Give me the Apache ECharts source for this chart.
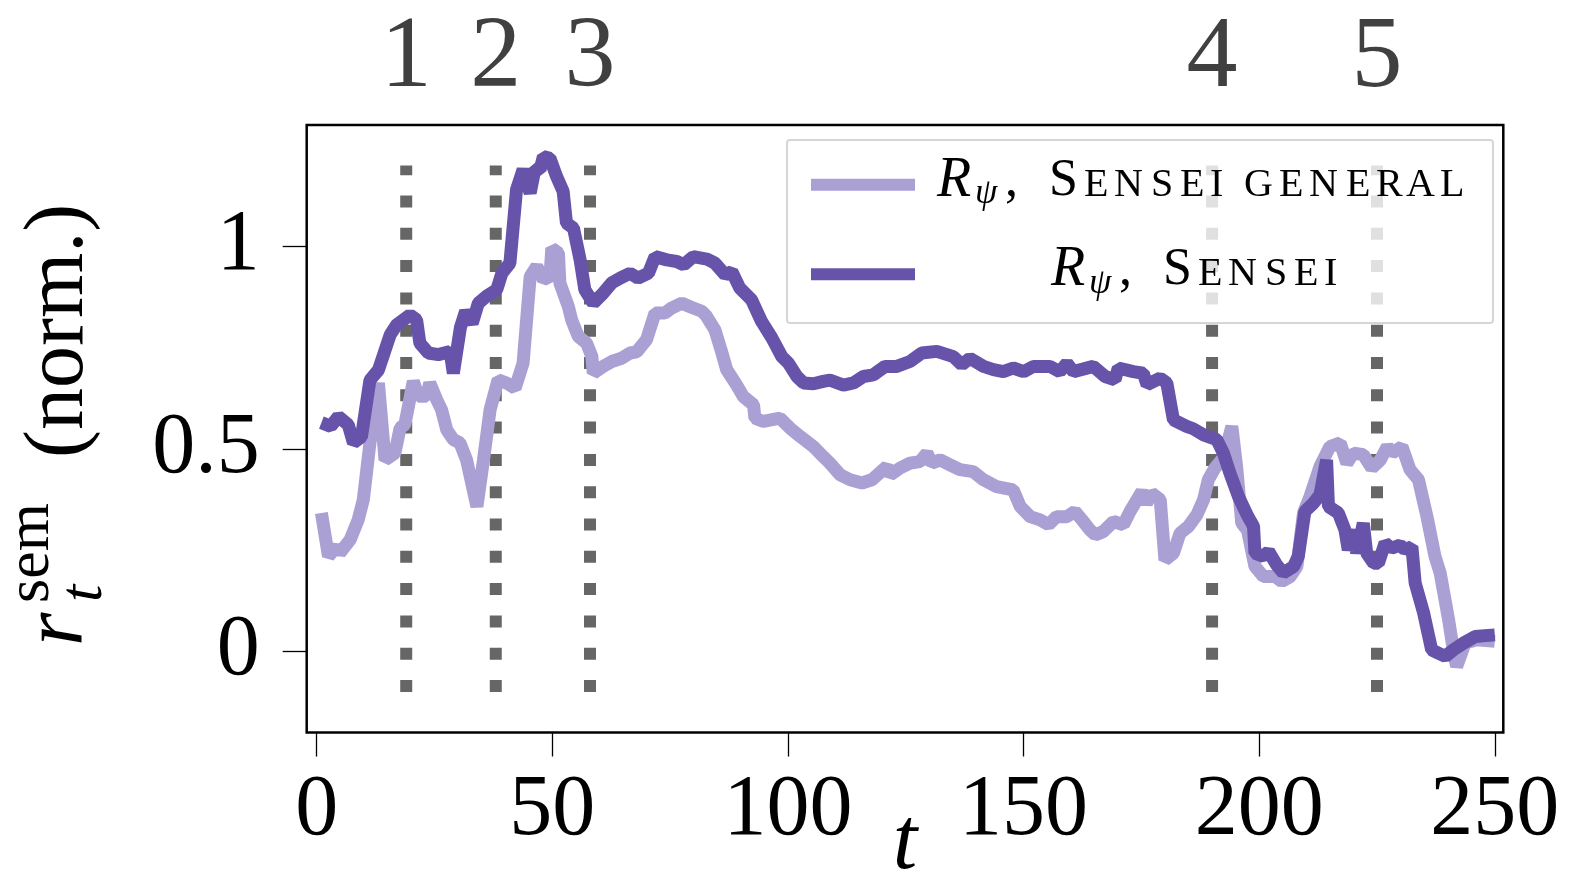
<!DOCTYPE html>
<html>
<head>
<meta charset="utf-8">
<script src="https://cdn.jsdelivr.net/npm/echarts@6/dist/echarts.min.js"></script>
<style>html,body{margin:0;padding:0;background:#fff;}#c{width:1580px;height:893px;}</style>
</head>
<body>
<div id="c"></div>
<script>
// ---- data ----
const eventT = [19, 38, 58, 190, 225];
const eventLabels = ['1', '2', '3', '4', '5'];
const xTicks = [0, 50, 100, 150, 200, 250];
const yTicks = [0, 0.5, 1];

const senseiT = [1,3,4.6,6.7,7.8,9.5,11.3,13.1,15.6,17,
  19.8,21.2,21.9,23.7,25.8,28.3,29,30.5,31.6,33,
  34.3,36,38.2,39.3,41,42.4,43.8,45.3,46.3,47.4,
  48.1,49.5,50.9,52.3,53,54.5,55.9,56.9,58.7,60.5,
  62.6,64.4,66.5,68.2,70.4,71.8,74.3,76.4,77.9,79.9,
  82.8,84.5,86.7,88.1,89.8,92.3,94.4,96.6,98.7,100.1,
  101.9,103.3,105.4,107.5,108.9,111.8,113.9,116,118.1,120.6,
  123.1,125.9,128.4,131.6,135.1,136.9,138.6,141.5,143.6,145.7,
  147.8,150,152.1,155.6,157.7,159.2,160.6,164.8,167.3,169.4,
  170.1,173.3,175.4,176.2,179,180.4,181.8,184.6,186,188.2,
  191,192.4,193.8,195.6,197.4,198.8,199.1,200.9,202,203.7,
  205.1,207.3,208.3,209.7,211.5,212.9,214.3,214.7,216.8,218.2,
  218.9,220,220.7,222.1,222.8,224.3,225.3,226.7,228.1,229.9,
  230.9,232.4,233.1,234.9,236.6,238,239.5,241.2,243.4,245.8,
  250];
const senseiV = [0.565,0.556,0.58,0.56,0.515,0.53,0.67,0.695,0.782,0.807,
  0.831,0.819,0.761,0.737,0.733,0.741,0.687,0.80,0.84,0.81,
  0.86,0.877,0.893,0.934,0.959,1.14,1.19,1.132,1.19,1.19,
  1.222,1.218,1.173,1.136,1.058,1.045,0.967,0.893,0.86,0.881,
  0.91,0.922,0.934,0.922,0.934,0.975,0.967,0.963,0.955,0.975,
  0.969,0.959,0.93,0.938,0.897,0.868,0.815,0.774,0.728,0.712,
  0.679,0.663,0.661,0.667,0.67,0.658,0.663,0.679,0.683,0.704,
  0.704,0.716,0.737,0.741,0.728,0.708,0.724,0.704,0.696,0.691,
  0.70,0.691,0.704,0.704,0.691,0.712,0.691,0.704,0.679,0.671,
  0.70,0.691,0.687,0.659,0.675,0.663,0.572,0.556,0.55,0.535,
  0.523,0.49,0.44,0.383,0.338,0.309,0.243,0.235,0.247,0.214,
  0.194,0.21,0.235,0.346,0.366,0.387,0.473,0.358,0.342,0.30,
  0.251,0.30,0.243,0.317,0.243,0.218,0.218,0.268,0.255,0.263,
  0.251,0.259,0.169,0.095,0.004,-0.004,-0.012,0.004,0.021,0.037,
  0.041];

const generalT = [1,2.5,4.2,4.9,7.1,8.8,9.9,11.3,13.1,14.5,
  16.6,17.7,18.7,20.5,21.6,23.3,24,25.5,26.5,27.6,
  29,30.4,31.8,34,35.4,36.8,38.5,40.3,42.1,43.8,
  45.3,46.7,48.1,49.5,49.9,51.3,51.6,53.4,54.1,55.5,
  57.3,58.4,58.7,60.8,62.6,64.7,66.5,67.9,70,71.8,
  73.9,75.3,77.5,79.5,81.7,82.6,84.5,85.9,87,89.1,
  90.5,92.7,93,94.8,98.3,100.4,102.6,105.4,107.5,108.9,
  111.1,113.2,115.7,117.8,121,121.7,123.8,125.9,128,129.5,
  130.5,132.3,134.4,136.5,139.3,141.5,144.3,147.8,149.3,151.4,
  153.5,155.3,157,159.2,160.9,162.4,164.1,165.2,166.9,169.1,
  171.2,172.6,175.1,176.1,177.2,179,180,181.8,183.2,185,
  186.8,188.2,189.2,190.6,192.5,194.2,195.2,196.3,197.5,199.1,
  200.9,203.4,204.8,206.6,208,209.4,210.8,212.9,215,217.2,
  218.6,220,222.1,223.9,225.7,227.2,228.2,230.3,232,233.8,
  235.6,237.3,238.4,240.2,241.2,241.9,243.7,246.2,250];
const generalV = [0.342,0.235,0.259,0.243,0.276,0.325,0.375,0.515,0.663,0.473,
  0.49,0.552,0.56,0.667,0.63,0.63,0.663,0.621,0.597,0.547,
  0.523,0.515,0.473,0.358,0.473,0.597,0.671,0.663,0.65,0.712,
  0.926,0.951,0.918,0.926,0.996,0.984,0.91,0.852,0.819,0.778,
  0.761,0.728,0.687,0.704,0.716,0.724,0.737,0.74,0.77,0.836,
  0.836,0.848,0.86,0.85,0.84,0.83,0.794,0.741,0.696,0.658,
  0.63,0.609,0.576,0.568,0.576,0.552,0.531,0.506,0.481,0.465,
  0.436,0.424,0.416,0.424,0.457,0.436,0.453,0.465,0.469,0.49,
  0.465,0.473,0.461,0.449,0.444,0.424,0.407,0.399,0.358,0.333,
  0.325,0.313,0.333,0.333,0.346,0.325,0.30,0.288,0.296,0.321,
  0.313,0.346,0.395,0.366,0.391,0.375,0.226,0.243,0.292,0.309,
  0.338,0.375,0.424,0.453,0.48,0.556,0.457,0.317,0.30,0.21,
  0.185,0.185,0.173,0.185,0.21,0.342,0.383,0.457,0.506,0.515,
  0.465,0.49,0.486,0.453,0.473,0.506,0.49,0.506,0.449,0.424,
  0.333,0.235,0.194,0.078,0.004,-0.037,0.021,0.029,0.025];

// ---- styling ----
const FONT = "'Liberation Serif', 'DejaVu Serif', serif";
const DARK = '#6753a9';
const LIGHT = '#aba0d3';

const chart = echarts.init(document.getElementById('c'), null, {renderer: 'canvas'});

const pairs = (T, V) => T.map((t, i) => [t, V[i]]);

const scWidths = {E: 30, N: 37, S: 29, I: 14, G: 35, R: 30, A: 34, L: 25};
const rich = {
  R: {fontFamily: FONT, fontSize: 56, fontStyle: 'italic', color: '#000', width: 38},
  psi: {fontFamily: FONT, fontSize: 36, fontStyle: 'italic', color: '#000', width: 30, padding: [25, 0, 0, 0]},
  cm: {fontFamily: FONT, fontSize: 52, color: '#000', width: 44},
  S: {fontFamily: FONT, fontSize: 52, color: '#000', width: 35},
  sp: {fontFamily: FONT, fontSize: 40, color: '#000', width: 20}
};
Object.keys(scWidths).forEach(k => {
  rich['sc' + k] = {fontFamily: FONT, fontSize: 40, color: '#000', width: scWidths[k], padding: [8, 0, 0, 0]};
});
function smallCaps(str) {
  return str.split('').map(ch => ch === ' ' ? '{sp| }' : '{sc' + ch + '|' + ch + '}').join('');
}
function legendText(rest) {
  return '{R|R}{psi|ψ}{cm|,}{S|S}' + smallCaps(rest);
}

const eventSeries = eventT.map(t => ({
  type: 'line',
  name: 'event' + t,
  data: [[t, -0.1], [t, 1.2]],
  symbol: 'none',
  silent: true,
  z: 1,
  lineStyle: {color: '#666666', width: 12, type: [12, 20.3], cap: 'butt'}
}));

const option = {
  animation: false,
  backgroundColor: '#fff',
  grid: {left: 306.7, top: 125, width: 1196.6, height: 607.5, show: true, borderColor: '#000', borderWidth: 2.5,
    backgroundColor: 'transparent', outerBoundsMode: 'none', containLabel: false},
  xAxis: [{
    type: 'value', min: -2.12, max: 251.8, position: 'bottom',
    axisLine: {show: false, onZero: false},
    splitLine: {show: false},
    axisTick: {show: true, customValues: xTicks, length: 24, lineStyle: {color: '#000', width: 1.3}},
    axisLabel: {customValues: xTicks, margin: 36, fontFamily: FONT, fontSize: 86, color: '#000'},
    name: 't', nameLocation: 'middle', nameGap: 68, nameMoveOverlap: false,
    nameTextStyle: {fontFamily: FONT, fontSize: 88, fontStyle: 'italic', color: '#000'}
  }, {
    type: 'value', min: -2.12, max: 251.8, position: 'top',
    axisLine: {show: false, onZero: false},
    splitLine: {show: false},
    axisTick: {show: false},
    axisLabel: {customValues: eventT, margin: 15, fontFamily: FONT, fontSize: 102, color: '#404040',
      formatter: v => eventLabels[eventT.indexOf(v)]}
  }],
  yAxis: {
    type: 'value', min: -0.2, max: 1.3,
    axisLine: {show: false, onZero: false},
    splitLine: {show: false},
    axisTick: {show: true, customValues: yTicks, length: 24, lineStyle: {color: '#000', width: 1.3}},
    axisLabel: {customValues: yTicks, margin: 47, fontFamily: FONT, fontSize: 86, color: '#000'}
  },
  legend: [{
    data: ['Sensei general'], selectedMode: false, z: 100,
    left: 811, top: 153.3, padding: 0, icon: 'rect', itemWidth: 104, itemHeight: 12,
    formatter: () => legendText('ENSEI GENERAL'),
    textStyle: {fontFamily: FONT, fontSize: 52, color: '#000', padding: [0, 0, 7, 17], rich: rich}
  }, {
    data: ['Sensei'], selectedMode: false, z: 100,
    left: 811, top: 242.7, padding: 0, icon: 'rect', itemWidth: 104, itemHeight: 12,
    formatter: () => legendText('ENSEI'),
    textStyle: {fontFamily: FONT, fontSize: 52, color: '#000', padding: [0, 0, 7, 131], rich: rich}
  }],
  graphic: [{
    type: 'rect', z: 50, silent: true,
    shape: {x: 787, y: 140, width: 706, height: 183, r: 3},
    style: {fill: 'rgba(255,255,255,0.8)', stroke: '#d6d6d6', lineWidth: 2}
  }, {
    type: 'group', x: 88, y: 648, rotation: Math.PI / 2, silent: true,
    children: [
      {type: 'text', x: 2, y: -29, style: {text: 'r', font: 'italic 86px ' + FONT, fill: '#000', align: 'left', verticalAlign: 'middle'}},
      {type: 'text', x: 46, y: -3.5, style: {text: 't', font: 'italic 62px ' + FONT, fill: '#000', align: 'left', verticalAlign: 'middle'}},
      {type: 'text', x: 45, y: -56, style: {text: 'sem', font: '62px ' + FONT, fill: '#000', align: 'left', verticalAlign: 'middle'}},
      {type: 'text', x: 190, y: -28.4, style: {text: '(norm.)', font: '84px ' + FONT, fill: '#000', align: 'left', verticalAlign: 'middle'}}
    ]
  }],
  series: eventSeries.concat([{
    type: 'line', name: 'Sensei general', data: pairs(generalT, generalV),
    symbol: 'none', showSymbol: false, z: 2,
    itemStyle: {color: LIGHT},
    lineStyle: {color: LIGHT, width: 13}
  }, {
    type: 'line', name: 'Sensei', data: pairs(senseiT, senseiV),
    symbol: 'none', showSymbol: false, z: 3,
    itemStyle: {color: DARK},
    lineStyle: {color: DARK, width: 13}
  }])
};
chart.setOption(option);
</script>
</body>
</html>
